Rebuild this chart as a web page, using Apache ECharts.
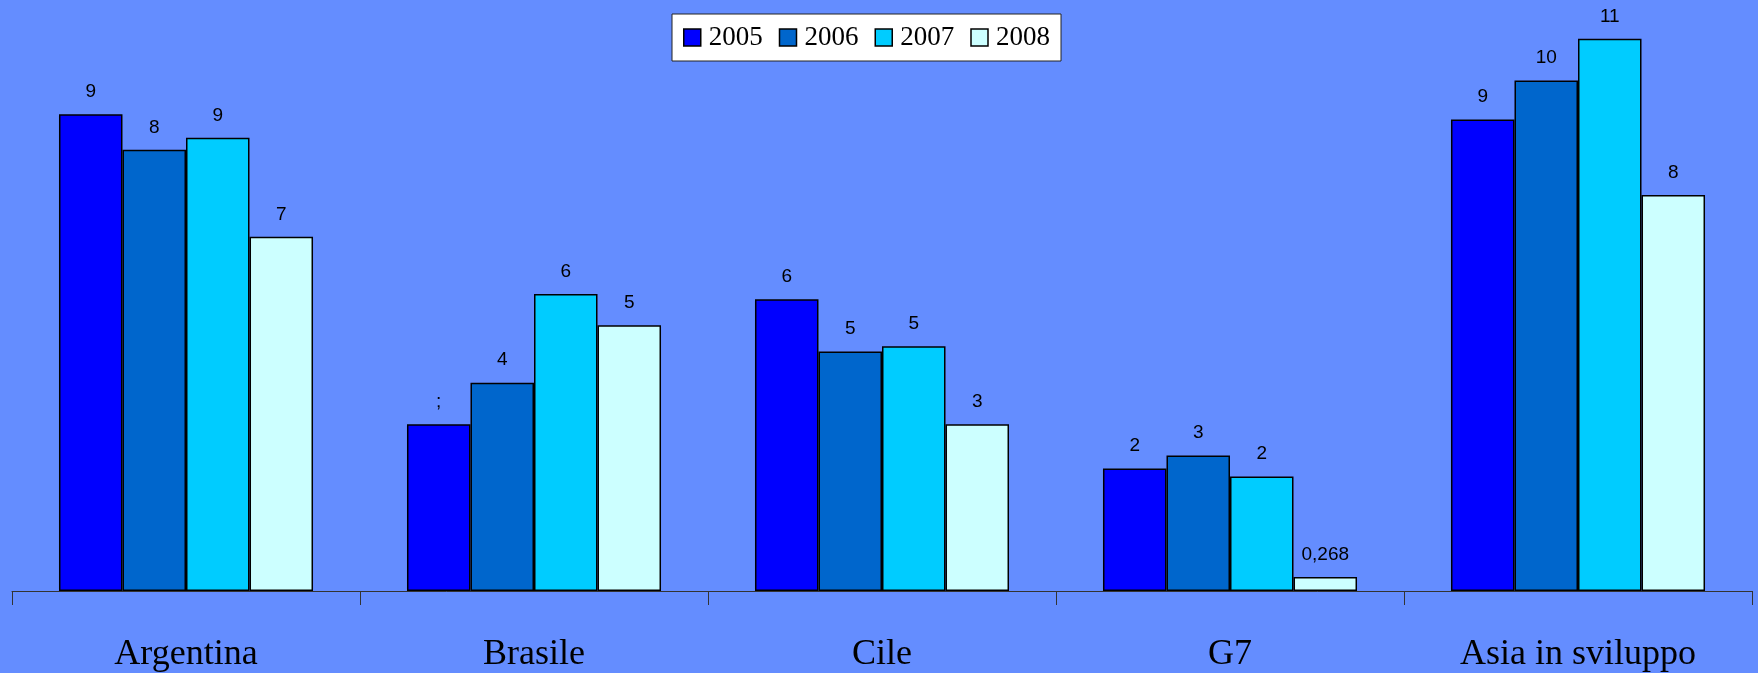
<!DOCTYPE html>
<html>
<head>
<meta charset="utf-8">
<script src="https://cdn.jsdelivr.net/npm/echarts@6/dist/echarts.min.js"></script>
<style>
  html, body { margin: 0; padding: 0; background: #648dff; }
  #chart { width: 1758px; height: 673px; }
</style>
</head>
<body>
<div id="chart"></div>
<script>
const categories = ['Argentina', 'Brasile', 'Cile', 'G7', 'Asia in sviluppo']
const years = ['2005', '2006', '2007', '2008']
const values2005 = [9.15, 3.2, 5.6, 2.35, 9.05]
const values2006 = [8.47, 4.0, 4.6, 2.6, 9.8]
const values2007 = [8.7, 5.7, 4.7, 2.2, 10.6]
const values2008 = [6.8, 5.1, 3.2, 0.268, 7.6]
const colors = ['#0000ff', '#0066cc', '#00ccff', '#ccffff']
// the source picture shows a broken glyph for one label
const labelOverrides = { '2005|Brasile': ';' }

const seriesValues = [values2005, values2006, values2007, values2008]

const chart = echarts.init(document.getElementById('chart'))

const formatLabel = (params) => {
  const key = params.seriesName + '|' + params.name
  if (labelOverrides[key]) return labelOverrides[key]
  if (params.value < 1) return params.value.toFixed(3).replace('.', ',')
  return Math.round(params.value)
}

const option = {
  backgroundColor: '#648dff',
  animation: false,
  legend: {
    left: 672,
    top: 14,
    padding: [10, 11],
    itemWidth: 17,
    itemHeight: 17,
    itemGap: 16,
    backgroundColor: '#ffffff',
    borderColor: '#222',
    borderWidth: 1,
    icon: 'rect',
    itemStyle: { borderColor: '#000', borderWidth: 1.5 },
    textStyle: {
      fontFamily: 'Liberation Serif',
      fontSize: 27,
      color: '#000',
      padding: [0, 0, 0, 3]
    },
    data: years
  },
  grid: {
    left: 12,
    right: 6,
    top: 18,
    bottom: 82
  },
  xAxis: {
    type: 'category',
    data: categories,
    axisLine: { lineStyle: { color: '#333', width: 1 } },
    axisTick: { show: true, length: 14, lineStyle: { color: '#333' } },
    axisLabel: {
      fontFamily: 'Liberation Serif',
      fontSize: 36,
      color: '#000',
      margin: 46
    }
  },
  yAxis: {
    type: 'value',
    min: 0,
    max: 11,
    show: false,
    splitLine: { show: false }
  },
  series: years.map((year, i) => ({
    name: year,
    type: 'bar',
    data: seriesValues[i],
    barGap: '0%',
    barCategoryGap: '27%',
    itemStyle: {
      color: colors[i],
      borderColor: '#000',
      borderWidth: 1.5
    },
    label: {
      show: true,
      position: 'top',
      distance: 13,
      fontFamily: 'Liberation Sans',
      fontSize: 19,
      color: '#000',
      formatter: formatLabel
    }
  }))
}

chart.setOption(option)
</script>
</body>
</html>
